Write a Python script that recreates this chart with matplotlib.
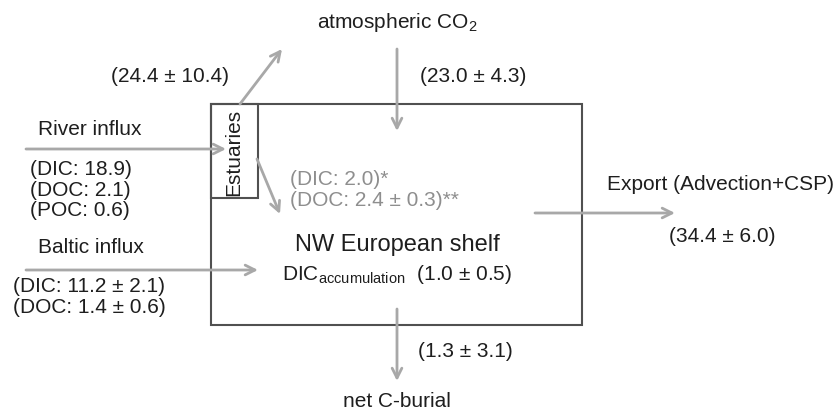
import matplotlib.pyplot as plt
from matplotlib.patches import Rectangle

plt.rcParams['font.family'] = ['Liberation Sans', 'DejaVu Sans']
plt.rcParams['mathtext.fontset'] = 'custom'
plt.rcParams['mathtext.rm'] = 'Liberation Sans'

# carbon fluxes shown on the diagram
river_labels = ['(DIC: 18.9)', '(DOC: 2.1)', '(POC: 0.6)']
baltic_labels = ['(DIC: 11.2 ± 2.1)', '(DOC: 1.4 ± 0.6)']
estuary_labels = ['(DIC: 2.0)*', '(DOC: 2.4 ± 0.3)**']
estuary_co2 = '(24.4 ± 10.4)'
atm_uptake = '(23.0 ± 4.3)'
dic_accum = '(1.0 ± 0.5)'
burial = '(1.3 ± 3.1)'
export = '(34.4 ± 6.0)'

black = '#1e1e1e'
grey_arrow = '#a8a8a8'
grey_text = '#8e8e8e'
fs = 15

fig = plt.figure(figsize=(8.37, 4.10), dpi=100)
ax = fig.add_axes([0, 0, 1, 1])
ax.set_xlim(0, 837)
ax.set_ylim(410, 0)
ax.axis('off')


def arrow(x0, y0, x1, y1):
    ax.annotate('', xy=(x1, y1), xytext=(x0, y0),
                arrowprops=dict(arrowstyle='->,head_length=0.7,head_width=0.35',
                                color=grey_arrow, lw=2, shrinkA=0, shrinkB=0))


# boxes
ax.add_patch(Rectangle((211, 105), 371, 221, fill=False, ec='#505050', lw=1.5))
ax.add_patch(Rectangle((211, 105), 47, 94, fill=False, ec='#505050', lw=1.5))
ax.text(234, 152, 'Estuaries', rotation=90, ha='center', va='center', fontsize=fs, color=black)

# atmosphere
ax.text(397, 22, 'atmospheric CO$_2$', ha='center', va='center', fontsize=fs, color=black)
arrow(397, 50, 397, 132)
ax.text(420, 77, atm_uptake, ha='left', va='center', fontsize=fs, color=black)
arrow(240, 105, 282, 50)
ax.text(170, 77, estuary_co2, ha='center', va='center', fontsize=fs, color=black)

# river influx
ax.text(38, 130, 'River influx', ha='left', va='center', fontsize=fs, color=black)
arrow(26, 150, 226, 150)
for i, lab in enumerate(river_labels):
    ax.text(30, 170 + i * 20.5, lab, ha='left', va='center', fontsize=fs, color=black)

# estuary to shelf
arrow(257, 160, 280, 215)
for i, lab in enumerate(estuary_labels):
    ax.text(290, 180 + i * 21, lab, ha='left', va='center', fontsize=fs, color=grey_text)

# baltic influx
ax.text(38, 248, 'Baltic influx', ha='left', va='center', fontsize=fs, color=black)
arrow(26, 271, 258, 271)
for i, lab in enumerate(baltic_labels):
    ax.text(13, 287 + i * 21, lab, ha='left', va='center', fontsize=fs, color=black)

# shelf
ax.text(397, 245, 'NW European shelf', ha='center', va='center', fontsize=17, color=black)
ax.text(282, 275, r'$\mathrm{DIC}_{\mathrm{accumulation}}$  ' + dic_accum,
        ha='left', va='center', fontsize=fs, color=black)

# burial
arrow(397, 310, 397, 382)
ax.text(418, 352, burial, ha='left', va='center', fontsize=fs, color=black)
ax.text(397, 402, 'net C-burial', ha='center', va='center', fontsize=fs, color=black)

# export
arrow(535, 214, 675, 214)
ax.text(721, 185, 'Export (Advection+CSP)', ha='center', va='center', fontsize=fs, color=black)
ax.text(722, 237, export, ha='center', va='center', fontsize=fs, color=black)

fig.savefig('out.png', dpi=100)
